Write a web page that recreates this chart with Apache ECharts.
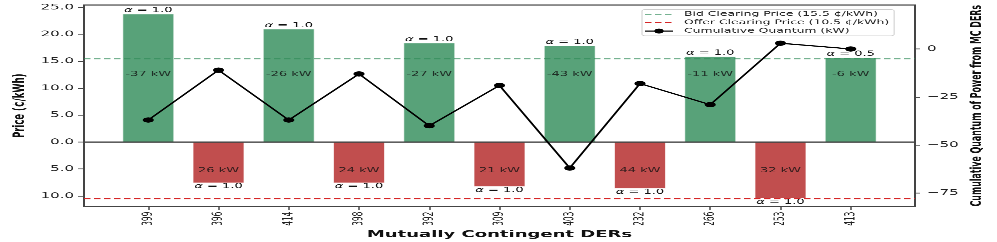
<!DOCTYPE html>
<html>
<head>
<meta charset="utf-8">
<script src="https://cdn.jsdelivr.net/npm/echarts@6/dist/echarts.min.js"></script>
<style>
html,body{margin:0;padding:0;background:#fff;}
#wrap{width:997px;height:242px;overflow:hidden;position:relative;}
#chart{width:997px;height:460px;transform:scaleY(0.5260870);transform-origin:0 0;}
</style>
</head>
<body>
<div id="wrap"><div id="chart"></div></div>
<script>
// ---- data ----
const derIds = ['399','396','414','398','392','309','403','232','266','253','413'];
const prices = [23.8, -7.6, 21.0, -7.6, 18.4, -8.3, 17.9, -8.65, 15.9, -10.5, 15.7];
const quantities = [-37, 26, -26, 24, -27, 21, -43, 44, -11, 32, -6];
const alphas = [1.0, 1.0, 1.0, 1.0, 1.0, 1.0, 1.0, 1.0, 1.0, 1.0, 0.5];
const cumulative = [-37, -11, -37, -13, -40, -19, -62, -18, -29, 3, 0];
const bidClearing = 15.5;
const offerClearing = 10.5;
const priceTicks = [-10, -5, 0, 5, 10, 15, 20, 25];
const quantumTicks = [-75, -50, -25, 0];
const legendNames = ['Bid Clearing Price (15.5 ¢/kWh)', 'Offer Clearing Price (10.5 ¢/kWh)', 'Cumulative Quantum (kW)'];

// ---- style constants ----
const FONT = 'DejaVu Sans';
const GREEN = 'rgba(46,139,87,0.8)';
const RED = 'rgba(178,34,34,0.8)';
const BIDLINE = 'rgba(46,139,87,0.65)';
const OFFERLINE = '#d62728';
const bidLabelLevel = 12.6;
const offerLabelLevel = -5.3;
const idx = derIds.map((_, i) => i);

const chart = echarts.init(document.getElementById('chart'), null, {renderer: 'canvas', devicePixelRatio: 2});

const barData = prices.map((p, i) => ({
  value: [i, p],
  itemStyle: {color: p >= 0 ? GREEN : RED},
  label: {
    show: true,
    position: p >= 0 ? 'top' : 'bottom',
    distance: 0,
    formatter: '{a|α} = ' + alphas[i].toFixed(1),
    fontFamily: FONT, fontSize: 13, color: '#111',
    rich: {a: {fontStyle: 'italic', fontFamily: FONT, fontSize: 13, color: '#111'}}
  }
}));

const qLabelData = quantities.map((q, i) => ({
  value: [i, prices[i] >= 0 ? bidLabelLevel : offerLabelLevel],
  label: {show: true, position: 'inside', formatter: q + ' kW'}
}));

const option = {
  animation: false,
  grid: {left: 84, right: 82, top: 9.5, bottom: 66.9, show: true, borderColor: '#444', borderWidth: 2, backgroundColor: 'transparent'},
  legend: {
    orient: 'vertical', left: 642, top: 18,
    data: legendNames,
    itemWidth: 28, itemHeight: 12, itemGap: 4,
    padding: [3, 5, 3, 2],
    backgroundColor: 'rgba(255,255,255,0.85)', borderColor: '#ccc', borderWidth: 1, borderRadius: 3,
    textStyle: {fontFamily: FONT, fontSize: 12.4, color: '#222', padding: [0, 0, 0, 6]}
  },
  xAxis: {
    type: 'value', min: -0.915, max: 10.915,
    name: 'Mutually Contingent DERs', nameLocation: 'middle', nameGap: 40,
    nameTextStyle: {fontFamily: FONT, fontSize: 18, fontWeight: 'bold', color: '#111'},
    axisLine: {show: false, onZero: false},
    splitLine: {show: false},
    axisTick: {show: true, length: 7, lineStyle: {color: '#444', width: 1.5}, customValues: idx},
    axisLabel: {rotate: 90, margin: 10, fontFamily: FONT, fontSize: 14, color: '#222', customValues: idx,
      formatter: v => derIds[Math.round(v)]}
  },
  yAxis: [
    {
      type: 'value', min: -11.95, max: 25.43, position: 'left',
      name: 'Price (¢/kWh)', nameLocation: 'middle', nameGap: 56, nameRotate: 90,
      nameTextStyle: {fontFamily: FONT, fontSize: 16, fontWeight: 'bold', color: '#111'},
      axisLine: {show: false, onZero: false}, splitLine: {show: false},
      axisTick: {show: true, length: 6, lineStyle: {color: '#444', width: 1.5}, customValues: priceTicks},
      axisLabel: {margin: 10, fontFamily: FONT, fontSize: 15, color: '#222', customValues: priceTicks,
        formatter: v => Math.abs(v).toFixed(1)}
    },
    {
      type: 'value', min: -82, max: 22.9, position: 'right',
      name: 'Cumulative Quantum of Power from MC DERs', nameLocation: 'middle', nameGap: 53, nameRotate: 90,
      nameTextStyle: {fontFamily: FONT, fontSize: 15, fontWeight: 'bold', color: '#111'},
      axisLine: {show: false, onZero: false}, splitLine: {show: false},
      axisTick: {show: true, length: 5, lineStyle: {color: '#444', width: 1.5}, customValues: quantumTicks},
      axisLabel: {margin: 12, fontFamily: FONT, fontSize: 15, color: '#222', customValues: quantumTicks,
        formatter: v => String(v).replace('-', '\u2212')}
    }
  ],
  series: [
    {
      type: 'bar', name: 'Prices', xAxisIndex: 0, yAxisIndex: 0,
      barWidth: 52, data: barData, z: 2,
      itemStyle: {borderColor: 'rgba(255,255,255,0.7)', borderWidth: 1},
      markLine: {
        silent: true, symbol: ['none', 'none'], label: {show: false},
        lineStyle: {color: '#444', width: 2.2, type: 'solid'},
        data: [{yAxis: 0}]
      }
    },
    {
      type: 'scatter', name: 'Quantities', xAxisIndex: 0, yAxisIndex: 0,
      symbolSize: 1, itemStyle: {color: 'transparent'}, z: 4,
      label: {show: true, fontFamily: FONT, fontSize: 13, color: '#111'},
      data: qLabelData
    },
    {
      type: 'line', name: legendNames[0], yAxisIndex: 0, data: [], symbol: 'none', z: 3,
      itemStyle: {color: 'transparent'},
      lineStyle: {color: BIDLINE, width: 2.5, type: [6.5, 3.5]},
      markLine: {silent: true, symbol: ['none', 'none'], label: {show: false},
        lineStyle: {color: BIDLINE, width: 2.5, type: [6.5, 3.5]},
        data: [{yAxis: bidClearing}]}
    },
    {
      type: 'line', name: legendNames[1], yAxisIndex: 0, data: [], symbol: 'none', z: 3,
      itemStyle: {color: 'transparent'},
      lineStyle: {color: OFFERLINE, width: 2.5, type: [6.5, 3.5]},
      markLine: {silent: true, symbol: ['none', 'none'], label: {show: false},
        lineStyle: {color: OFFERLINE, width: 2.5, type: [6.5, 3.5]},
        data: [{yAxis: -offerClearing}]}
    },
    {
      type: 'line', name: legendNames[2], yAxisIndex: 1, z: 5,
      data: cumulative.map((c, i) => [i, c]),
      symbol: 'circle', symbolSize: [11, 10],
      itemStyle: {color: '#000'},
      lineStyle: {color: '#000', width: 2.2}
    }
  ]
};
chart.setOption(option);
</script>
</body>
</html>
